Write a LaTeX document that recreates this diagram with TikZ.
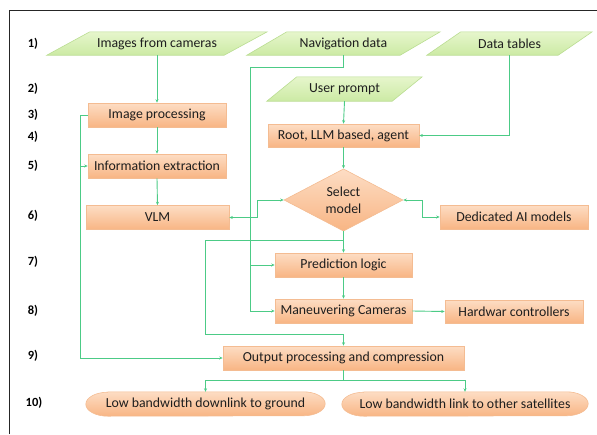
\documentclass[tikz,border=0pt]{standalone}
\usepackage{fontspec}
\setmainfont{Carlito}
\usetikzlibrary{arrows.meta,shapes.geometric,calc}
\pgfdeclarelayer{bg}
\pgfsetlayers{bg,main}
\definecolor{ln}{HTML}{4CCB86}
\definecolor{ortop}{HTML}{FDDDC4}
\definecolor{orbot}{HTML}{F8B584}
\definecolor{ordraw}{HTML}{F4BC92}
\definecolor{grtop}{HTML}{E6F6CC}
\definecolor{grbot}{HTML}{CCEAA4}
\definecolor{grdraw}{HTML}{BADD92}
\definecolor{txt}{HTML}{1E1E1E}
\tikzset{
  tx/.style={inner sep=0pt, font=\fontsize{13.8}{16}\selectfont, text=txt},
  box/.style={tx, draw=ordraw, line width=0.6pt, top color=ortop, bottom color=orbot, minimum height=24pt},
  ovtext/.style={tx, minimum height=24pt},
  ptext/.style={tx, minimum height=23pt},
  parashape/.style={draw=grdraw, line width=0.6pt, top color=grtop, bottom color=grbot},
  ovshape/.style={draw=ordraw, line width=0.6pt, top color=ortop, bottom color=orbot},
  dia/.style={tx, diamond, draw=ordraw, line width=0.6pt, top color=ortop, bottom color=orbot, minimum width=119pt, minimum height=58pt, align=center},
  conn/.style={draw=ln, line width=0.9pt, -{Stealth[length=3.5pt,width=3pt]}},
  biconn/.style={draw=ln, line width=0.9pt, {Stealth[length=3.5pt,width=3pt]}-{Stealth[length=3.5pt,width=3pt]}},
  lab/.style={inner sep=0pt, font=\bfseries\fontsize{12.5}{14}\selectfont, text=black}
}
\newcommand\paral[2]{%
  \begin{pgfonlayer}{bg}
  \path[parashape] ([xshift=-#2]#1.south west) -- ([xshift=-#2]#1.south east) -- ([xshift=#2]#1.north east) -- ([xshift=#2]#1.north west) -- cycle;
  \end{pgfonlayer}}
\newcommand\ovl[2]{%
  \begin{pgfonlayer}{bg}
  \path[ovshape] ([xshift=#2]#1.north west) -- ([xshift=-#2]#1.north east) arc[start angle=90, end angle=-90, x radius=#2, y radius=12pt] -- ([xshift=#2]#1.south west) arc[start angle=270, end angle=90, x radius=#2, y radius=12pt] -- cycle;
  \end{pgfonlayer}}
\begin{document}
\begin{tikzpicture}[x=1pt, y=-1pt]
\useasboundingbox (0,0) rectangle (597,434);
\draw[line width=1pt, black!85] (9,434) -- (9,10) -- (597,10);

% row labels
\node[lab] (r1) at (33,44) {1)};
\node[lab] (r2) at (33,89) {2)};
\node[lab] (r3) at (33,115) {3)};
\node[lab] (r4) at (33,137) {4)};
\node[lab] (r5) at (33,166) {5)};
\node[lab] (r6) at (33,216) {6)};
\node[lab] (r7) at (33,262) {7)};
\node[lab] (r8) at (33,311) {8)};
\node[lab] (r9) at (33,356) {9)};
\node[lab] (r10) at (34,403) {10)};

% inputs
\node[ptext, minimum width=177pt] (img) at (157,43.5) {Images from cameras};
\paral{img}{21.5pt}
\node[ptext, minimum width=153pt] (nav) at (343.5,43.5) {Navigation data};
\paral{nav}{20pt}
\node[ptext, minimum width=131pt] (dt) at (509.5,43.5) {Data tables};
\paral{dt}{17pt}
\node[ptext, minimum width=125pt, minimum height=24pt] (user) at (344.5,89) {User prompt};
\paral{user}{15pt}

% boxes
\node[box, minimum width=138pt] (improc) at (157,115) {Image processing};
\node[box, minimum width=138pt] (info) at (157,166) {Information extraction};
\node[box, minimum width=143pt] (vlm) at (157.5,217.5) {VLM};
\node[box, minimum width=151pt, minimum height=23pt] (root) at (343.5,135.5) {Root, LLM based, agent};
\node[dia] (sel) at (343.5,200) {Select\\[1pt]model};
\node[box, minimum width=148pt] (ded) at (514,217) {Dedicated AI models};
\node[box, minimum width=137pt] (pred) at (343.5,265) {Prediction logic};
\node[box, minimum width=137pt] (man) at (343.5,311) {Maneuvering Cameras};
\node[box, minimum width=138pt, minimum height=23pt] (hw) at (514,311.5) {Hardwar controllers};
\node[box, minimum width=241pt] (out) at (343.5,358) {Output processing and compression};
\node[ovtext, minimum width=239pt] (gnd) at (205.5,404) {Low bandwidth downlink to ground};
\ovl{gnd}{22pt}
\node[ovtext, minimum width=246pt] (sat) at (465,404) {Low bandwidth link to other satellites};
\ovl{sat}{22pt}

% helper coordinates
\coordinate (navk) at (250,67);
\coordinate (vk) at (257,200);
\coordinate (dk) at (422,200);
\coordinate (ok1) at (205,240);
\coordinate (ok2) at (205,334);
\coordinate (lk) at (80,115);
\coordinate (bk) at (343.5,380);

% connectors
\draw[conn] (img.south) -- (improc.north);
\draw[conn] (improc.south) -- (info.north);
\draw[conn] (info.south) -- (vlm.north);
\draw[conn] (nav.south) |- (navk) |- (man.west);
\draw[conn] (navk |- pred.west) -- (pred.west);
\draw[conn] (user.south) -- (root.north);
\draw[conn] (dt.south) |- (root.east);
\draw[conn] (root.south) -- (sel.north);
\draw[biconn] (vlm.east) -| (vk) -- (sel.west);
\draw[biconn] (sel.east) -- (dk) |- (ded.west);
\draw[conn] (sel.south) -- (pred.north);
\draw[conn] (sel.south |- ok1) -- (ok1) -- (ok2) -| (out.north);
\draw[conn] (pred.south) -- (man.north);
\draw[conn] (man.east) -- (hw.west);
\draw[conn] (improc.west) -- (lk) |- (out.west);
\draw[conn] (lk |- info.west) -- (info.west);
\draw[draw=ln, line width=0.9pt] (out.south) -- (bk);
\draw[conn] (bk) -| (gnd.north);
\draw[conn] (bk) -| (sat.north);
\end{tikzpicture}
\end{document}
